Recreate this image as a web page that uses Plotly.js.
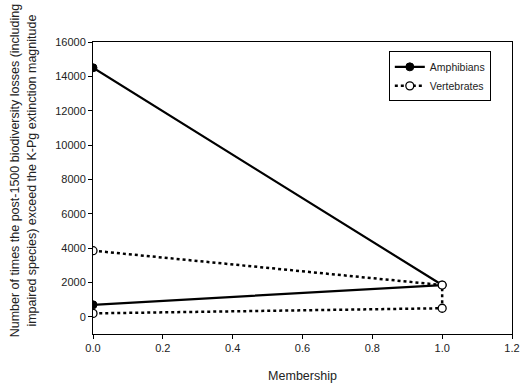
<!DOCTYPE html>
<html>
<head>
<meta charset="utf-8">
<script src="https://cdn.plot.ly/plotly-3.0.1.min.js"></script>
<style>
  html, body { margin: 0; padding: 0; background: #fff; }
  #chart { width: 521px; height: 389px; }
</style>
</head>
<body>
<div id="chart"></div>
<script>
// Membership vs. number of times post-1500 losses exceed the K-Pg magnitude
const amphibiansX = [0, 1, 0];
const amphibiansY = [14500, 1850, 700];
const vertebratesX = [0, 1, 1, 0];
const vertebratesY = [3850, 1850, 500, 200];
const xTicks = [0, 0.2, 0.4, 0.6, 0.8, 1.0, 1.2];
const xTickText = ['0.0', '0.2', '0.4', '0.6', '0.8', '1.0', '1.2'];
const yTicks = [0, 2000, 4000, 6000, 8000, 10000, 12000, 14000, 16000];
const yTickText = ['0', '2000', '4000', '6000', '8000', '10000', '12000', '14000', '16000'];
const yTitle = 'Number of times the post-1500 biodiversity losses (including<br>impaired species) exceed the K-Pg extinction magnitude';

const traces = [
  {
    name: 'Amphibians',
    x: amphibiansX, y: amphibiansY,
    mode: 'lines+markers',
    line: { color: '#000', width: 2.2 },
    marker: { symbol: 'circle', size: 8, color: '#000', line: { color: '#000', width: 1 } }
  },
  {
    name: 'Vertebrates',
    x: vertebratesX, y: vertebratesY,
    mode: 'lines+markers',
    line: { color: '#000', width: 2.5, dash: 'dot' },
    marker: { symbol: 'circle', size: 8, color: '#fff', line: { color: '#000', width: 1.3 } }
  }
];

const font = { family: 'Liberation Sans, Arial, sans-serif', color: '#222' };

const layout = {
  width: 521, height: 389,
  margin: { l: 93, r: 9, t: 42, b: 55 },
  paper_bgcolor: '#fff', plot_bgcolor: '#fff',
  font: Object.assign({ size: 11 }, font),
  showlegend: true,
  legend: {
    x: 0.706, y: 0.968, xanchor: 'left', yanchor: 'top',
    bordercolor: '#000', borderwidth: 1, bgcolor: '#fff',
    font: Object.assign({ size: 10.5 }, font),
    tracegroupgap: 0, itemwidth: 30
  },
  xaxis: {
    range: [0, 1.2],
    tickvals: xTicks, ticktext: xTickText,
    ticks: 'outside', ticklen: 4, tickwidth: 1, tickcolor: '#000',
    showline: true, linecolor: '#000', linewidth: 1, mirror: true,
    showgrid: false, zeroline: false,
    tickfont: Object.assign({ size: 11 }, font),
    title: { text: 'Membership', font: Object.assign({ size: 12.5 }, font), standoff: 18 }
  },
  yaxis: {
    range: [-1000, 16000],
    tickvals: yTicks, ticktext: yTickText,
    ticks: 'outside', ticklen: 4, tickwidth: 1, tickcolor: '#000',
    showline: true, linecolor: '#000', linewidth: 1, mirror: true,
    showgrid: false, zeroline: false,
    tickfont: Object.assign({ size: 11 }, font)
  },
  // y-axis title drawn as a rotated annotation so it can sit slightly above centre
  annotations: [{
    text: yTitle,
    xref: 'paper', yref: 'paper',
    x: -0.165, y: 0.56, xanchor: 'center', yanchor: 'middle',
    textangle: -90, showarrow: false,
    font: Object.assign({ size: 12.5 }, font)
  }]
};

Plotly.newPlot('chart', traces, layout, { displayModeBar: false, staticPlot: true });
</script>
</body>
</html>
